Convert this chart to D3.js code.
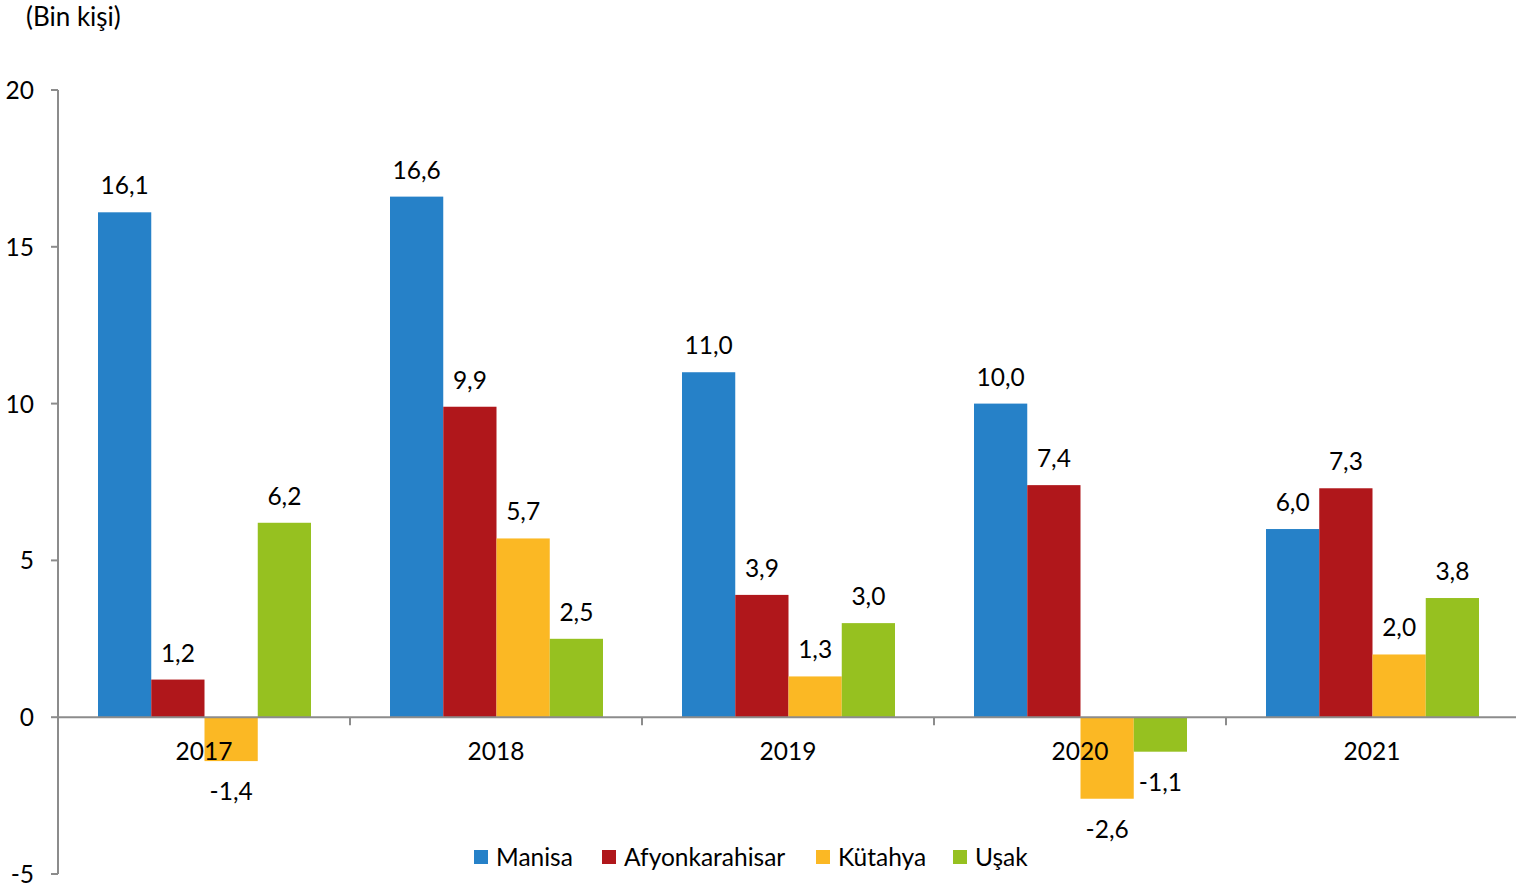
<!DOCTYPE html>
<html>
<head>
<meta charset="utf-8">
<script src="https://cdn.jsdelivr.net/npm/d3@7"></script>
<style>
  body { margin: 0; background: #fff; }
  text { font-family: Lato, "Noto Sans", sans-serif; fill: #000; }
</style>
</head>
<body>
<div id="chart"></div>
<script>
const years = ['2017', '2018', '2019', '2020', '2021'];
const seriesNames = ['Manisa', 'Afyonkarahisar', 'Kütahya', 'Uşak'];
const manisa = [16.1, 16.6, 11.0, 10.0, 6.0];
const afyon = [1.2, 9.9, 3.9, 7.4, 7.3];
const kutahya = [-1.4, 5.7, 1.3, -2.6, 2.0];
const usak = [6.2, 2.5, 3.0, -1.1, 3.8];
const yTicks = [-5, 0, 5, 10, 15, 20];
const colors = ['#2681c8', '#b0171b', '#fbb824', '#96c120'];

const values = [manisa, afyon, kutahya, usak];
const width = 1516, height = 888;
const font_size = 24.5;

const svg = d3.select('#chart').append('svg')
  .attr('width', width)
  .attr('height', height);

const y = d3.scaleLinear().domain([-5, 20]).range([874, 90]);
const x0 = d3.scaleBand().domain(years).range([58, 1518]);
const x1 = d3.scaleBand().domain(seriesNames).range([40, 253]);

// bars
seriesNames.forEach((s, si) => {
  const g = svg.append('g').attr('fill', colors[si]);
  years.forEach((yr, i) => {
    const v = values[si][i];
    g.append('rect')
      .attr('x', x0(yr) + x1(s))
      .attr('width', x1.bandwidth())
      .attr('y', y(Math.max(v, 0)))
      .attr('height', Math.abs(y(v) - y(0)));
  });
});

// axes
const axisColor = '#8c8c8c';
svg.append('line')
  .attr('x1', 58).attr('x2', 58)
  .attr('y1', y(20)).attr('y2', y(-5))
  .attr('stroke', axisColor).attr('stroke-width', 2);
yTicks.forEach(t => {
  svg.append('line')
    .attr('x1', 51).attr('x2', 58)
    .attr('y1', y(t)).attr('y2', y(t))
    .attr('stroke', axisColor).attr('stroke-width', 2);
  svg.append('text')
    .attr('x', 34).attr('y', y(t) + 9)
    .attr('text-anchor', 'end')
    .attr('font-size', font_size)
    .text(t);
});
svg.append('line')
  .attr('x1', 58).attr('x2', 1516)
  .attr('y1', y(0)).attr('y2', y(0))
  .attr('stroke', axisColor).attr('stroke-width', 2);
years.slice(1).forEach(yr => {
  svg.append('line')
    .attr('x1', x0(yr)).attr('x2', x0(yr))
    .attr('y1', y(0)).attr('y2', y(0) + 8)
    .attr('stroke', axisColor).attr('stroke-width', 2);
});

// year labels drawn over bars
years.forEach(yr => {
  svg.append('text')
    .attr('x', x0(yr) + x0.bandwidth() / 2)
    .attr('y', 760)
    .attr('text-anchor', 'middle')
    .attr('font-size', font_size)
    .text(yr);
});

// value labels
const fmt = v => v.toFixed(1).replace('.', ',');
seriesNames.forEach((s, si) => {
  years.forEach((yr, i) => {
    const v = values[si][i];
    const cx = x0(yr) + x1(s) + x1.bandwidth() / 2;
    const ty = v >= 0 ? y(v) - 18 : y(v) + 39;
    svg.append('text')
      .attr('x', cx).attr('y', ty)
      .attr('text-anchor', 'middle')
      .attr('font-size', font_size)
      .text(fmt(v));
  });
});

// unit label
svg.append('text')
  .attr('x', 26).attr('y', 26)
  .attr('font-size', 26)
  .text('(Bin kişi)');

// legend
const legendX = [474, 602, 816, 953];
seriesNames.forEach((s, si) => {
  svg.append('rect')
    .attr('x', legendX[si]).attr('y', 850)
    .attr('width', 14).attr('height', 14)
    .attr('fill', colors[si]);
  svg.append('text')
    .attr('x', legendX[si] + 22).attr('y', 866)
    .attr('font-size', font_size)
    .text(s);
});
</script>
</body>
</html>
